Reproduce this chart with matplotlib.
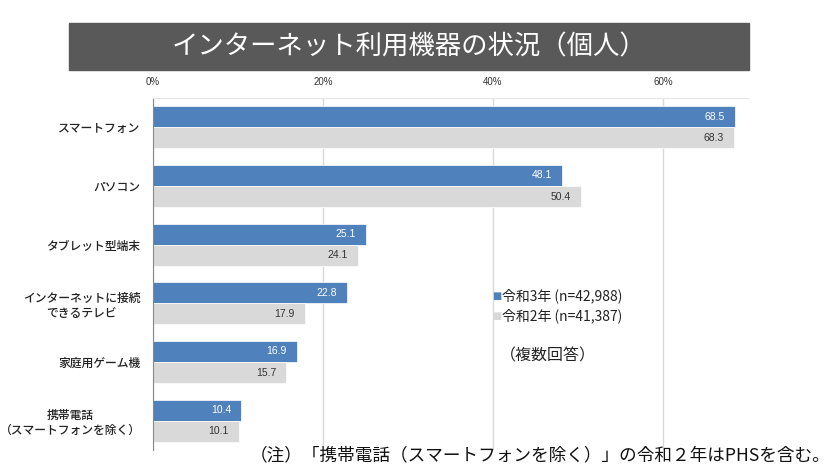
import numpy as np
import matplotlib.pyplot as plt
from matplotlib.patches import Rectangle

plt.rcParams['font.family'] = ['Noto Sans CJK JP', 'DejaVu Sans']

cats = ['スマートフォン', 'パソコン', 'タブレット型端末', 'インターネットに接続\nできるテレビ',
        '家庭用ゲーム機', '携帯電話\n（スマートフォンを除く）']
r3 = [68.5, 48.1, 25.1, 22.8, 16.9, 10.4]
r2 = [68.3, 50.4, 24.1, 17.9, 15.7, 10.1]
ticks = [0, 20, 40, 60]
legend_labels = ['令和3年 (n=42,988)', '令和2年 (n=41,387)']

blue = '#4f81bd'
gray = '#d9d9d9'

fig = plt.figure(figsize=(8.34, 4.67), dpi=100)
W, H = 834, 467
ax = fig.add_axes([153/W, 1-450/H, (748-153)/W, (450-98)/H])

y = np.arange(len(cats))
h = 0.36
b1 = ax.barh(y - h/2, r3, height=h, color=blue, edgecolor='white', linewidth=0.5)
b2 = ax.barh(y + h/2, r2, height=h, color=gray, edgecolor='white', linewidth=0.5)
for rect, v in zip(b1, r3):
    ax.text(v - 1.2, rect.get_y() + rect.get_height()/2, f'{v:.1f}', color='white',
            ha='right', va='center', fontsize=7.5, family='Liberation Sans')
for rect, v in zip(b2, r2):
    ax.text(v - 1.2, rect.get_y() + rect.get_height()/2, f'{v:.1f}', color='#333333',
            ha='right', va='center', fontsize=7.5, family='Liberation Sans')

ax.set_xlim(0, 70)
ax.set_ylim(len(cats) - 0.5, -0.5)
ax.set_xticks(ticks)
ax.set_xticklabels([f'{t}%' for t in ticks], fontsize=7, color='#333333', family='Liberation Sans')
ax.xaxis.tick_top()
ax.tick_params(axis='x', length=0, pad=8)
ax.set_yticks(y)
ax.set_yticklabels(cats, fontsize=8.5, color='#222222', fontweight='medium',
                   multialignment='center')
ax.tick_params(axis='y', length=0, pad=9)
ax.grid(axis='x', color='#d9d9d9', linewidth=1)
ax.set_axisbelow(True)
for s in ['right', 'bottom']:
    ax.spines[s].set_visible(False)
ax.spines['top'].set_color('#e6e6e6')
ax.spines['left'].set_color('#888888')

# legend
fig.text(492/W, 1-296/H, '■', color=blue, fontsize=7, va='center', family='DejaVu Sans')
fig.text(492/W, 1-316/H, '■', color=gray, fontsize=7, va='center', family='DejaVu Sans')
fig.text(502/W, 1-296/H, legend_labels[0], fontsize=10, va='center', color='#222222')
fig.text(502/W, 1-316/H, legend_labels[1], fontsize=10, va='center', color='#222222')
fig.text(500/W, 1-356/H, '（複数回答）', fontsize=11.5, va='center', color='#222222')

# title banner
fig.patches.append(Rectangle((69/W, 1-70/H), (749-69)/W, 47/H, transform=fig.transFigure,
                             color='#595959', zorder=0))
fig.text(409/W, 1-47/H, 'インターネット利用機器の状況（個人）', color='white', fontsize=19,
         ha='center', va='center')

fig.text(831/W, 1-455/H, '（注）「携帯電話（スマートフォンを除く）」の令和２年はPHSを含む。',
         fontsize=12.7, ha='right', va='center', color='#111111')

fig.savefig('out.png', dpi=100)
